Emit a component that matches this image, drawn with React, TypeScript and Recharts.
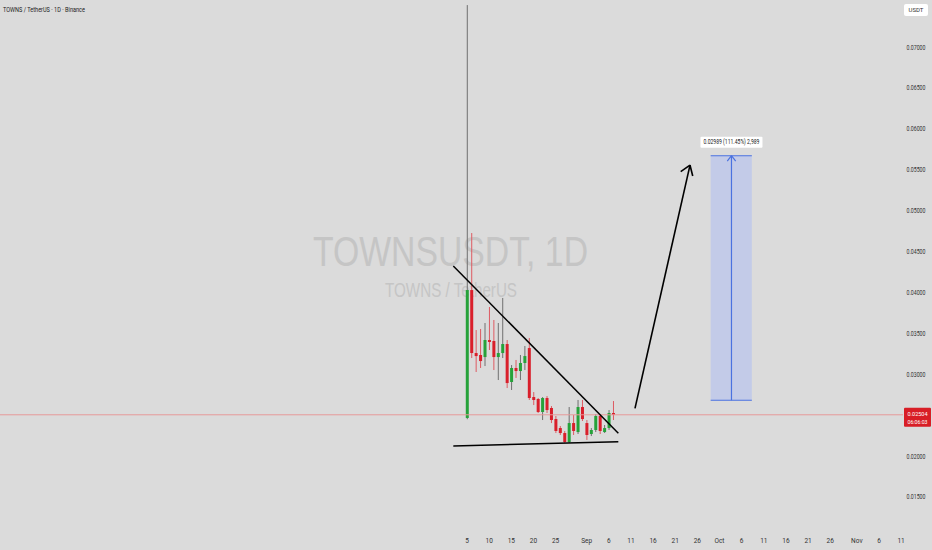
import React from 'react';
import {
  ComposedChart,
  Bar,
  XAxis,
  YAxis,
  ReferenceLine,
  ReferenceArea,
  ReferenceDot,
} from 'recharts';

// ---- data ----
const candleDays = [0, 1, 2, 3, 4, 5, 6, 7, 8, 9, 10, 11, 12, 13, 14, 15, 16, 17, 18, 19, 20, 21, 22, 23, 24, 25, 26, 27, 28, 29, 30, 31, 32, 33];
const opens = [0.02465, 0.04029, 0.03259, 0.03235, 0.0321, 0.03418, 0.03406, 0.0321, 0.03259, 0.03369, 0.02905, 0.03076, 0.03039, 0.03137, 0.0332, 0.02721, 0.02697, 0.02538, 0.02709, 0.02587, 0.02452, 0.02342, 0.02281, 0.02171, 0.02403, 0.02293, 0.02599, 0.02403, 0.02269, 0.02318, 0.02489, 0.02293, 0.02342, 0.02526];
const highs = [0.07513, 0.04726, 0.0354, 0.03553, 0.03626, 0.03822, 0.03663, 0.03626, 0.03932, 0.03418, 0.03112, 0.03174, 0.03235, 0.03345, 0.03443, 0.02782, 0.02709, 0.02721, 0.02733, 0.02611, 0.02489, 0.02367, 0.02306, 0.02599, 0.02501, 0.02685, 0.02685, 0.0244, 0.02342, 0.02513, 0.02513, 0.02379, 0.02562, 0.02672];
const lows = [0.0245, 0.03198, 0.03027, 0.03076, 0.031, 0.03296, 0.03051, 0.02929, 0.03198, 0.02831, 0.02807, 0.02954, 0.02929, 0.03051, 0.02685, 0.02623, 0.02526, 0.0244, 0.02526, 0.02403, 0.02281, 0.02257, 0.02159, 0.02159, 0.02257, 0.02269, 0.02428, 0.02196, 0.02244, 0.02293, 0.02269, 0.02281, 0.02318, 0.0244];
const closes = [0.04029, 0.03259, 0.03222, 0.03161, 0.03418, 0.03394, 0.0321, 0.03259, 0.03369, 0.02892, 0.03076, 0.03039, 0.03137, 0.03222, 0.02709, 0.02685, 0.02538, 0.02709, 0.02562, 0.0244, 0.02306, 0.02281, 0.02171, 0.02403, 0.02306, 0.02599, 0.02452, 0.02257, 0.02318, 0.02489, 0.02306, 0.02342, 0.02526, 0.02504];

const xTickDays = [0, 5, 10, 15, 20, 27, 32, 37, 42, 47, 52, 57, 62, 67, 72, 77, 82, 88, 93, 98];
const xTickLabels = ['5', '10', '15', '20', '25', 'Sep', '6', '11', '16', '21', '26', 'Oct', '6', '11', '16', '21', '26', 'Nov', '6', '11'];
const yTicks = [0.015, 0.02, 0.03, 0.035, 0.04, 0.045, 0.05, 0.055, 0.06, 0.065, 0.07];

const lastPrice = 0.02504;
const countdown = '06:06:03';

// drawings (day offset, price)
const resistanceLine = [{ x: -3.09, y: 0.04323 }, { x: 34.16, y: 0.02278 }];
const supportLine = [{ x: -3.09, y: 0.02122 }, { x: 34.16, y: 0.02175 }];
const arrowLine = [{ x: 37.92, y: 0.02583 }, { x: 50.34, y: 0.05557 }];
const arrowWingLeft = [{ x: 50.34, y: 0.05557 }, { x: 48.24, y: 0.05476 }];
const arrowWingRight = [{ x: 50.34, y: 0.05557 }, { x: 50.95, y: 0.05423 }];
const targetFrom = 0.02682;
const targetTo = 0.05671;
const targetDays = [55.0, 59.7, 64.3];
const targetLabel = '0.02989 (111.45%) 2,989';

const data = candleDays.map((t, i) => ({
  t,
  open: opens[i],
  high: highs[i],
  low: lows[i],
  close: closes[i],
}));

const GREEN = '#26a23a';
const RED = '#d91f2b';
const WICK_UP = '#707070';
const WICK_DOWN = '#de5a62';
const BLUE = '#4a72e0';

const Candle = (props: any) => {
  const { x, y, width, height, payload } = props;
  if (!payload) return null;
  const { open, close, high, low } = payload;
  const top = Math.min(y, y + height);
  const h = Math.abs(height);
  const up = close >= open;
  const range = high - low;
  const k = range > 0 ? h / range : 0;
  const yOf = (v: number) => top + (high - v) * k;
  const bTop = yOf(Math.max(open, close));
  const bBot = yOf(Math.min(open, close));
  const cx = x + width / 2;
  return (
    <g>
      <line x1={cx} x2={cx} y1={top} y2={top + h} stroke={up ? WICK_UP : WICK_DOWN} strokeWidth={1} />
      <rect x={x} y={bTop} width={width} height={Math.max(1, bBot - bTop)} fill={up ? GREEN : RED} />
    </g>
  );
};

const YTick = (props: any) => {
  const { y, payload } = props;
  return (
    <text x={916} y={y + 2.5} textAnchor="middle" fontSize={6.5} fill="#333" fontFamily="Roboto, sans-serif" textLength={19} lengthAdjust="spacingAndGlyphs">
      {Number(payload.value).toFixed(5)}
    </text>
  );
};

const XTick = (props: any) => {
  const { x, payload } = props;
  const idx = xTickDays.indexOf(payload.value);
  return (
    <text x={x} y={543} textAnchor="middle" fontSize={6.5} fill="#333" fontFamily="Roboto, sans-serif">
      {idx >= 0 ? xTickLabels[idx] : ''}
    </text>
  );
};

const PriceLabel = (props: any) => {
  const vb = props.viewBox || {};
  const x0 = (vb.x || 0) + (vb.width || 0) + 1;
  const y0 = vb.y || 0;
  return (
    <g>
      <rect x={x0} y={y0 - 7} width={27} height={19} fill="#d81e26" rx={1} />
      <text x={x0 + 13.5} y={y0 + 1.5} textAnchor="middle" fontSize={6} fill="#fff" fontFamily="Roboto, sans-serif" textLength={20} lengthAdjust="spacingAndGlyphs">
        {lastPrice.toFixed(5)}
      </text>
      <text x={x0 + 13.5} y={y0 + 9.5} textAnchor="middle" fontSize={6} fill="#fff" fontFamily="Roboto, sans-serif" textLength={20} lengthAdjust="spacingAndGlyphs">
        {countdown}
      </text>
    </g>
  );
};

const TargetLabel = (props: any) => {
  const { cx, cy } = props;
  return (
    <g>
      <rect x={cx - 31} y={cy - 19} width={62} height={11} fill="#ffffff" rx={1} />
      <text x={cx} y={cy - 11.3} textAnchor="middle" fontSize={6.5} fill="#222" fontFamily="Roboto, sans-serif" textLength={56} lengthAdjust="spacingAndGlyphs">
        {targetLabel}
      </text>
    </g>
  );
};

export default function App() {
  const w = 932;
  const h = 550;
  return (
    <div style={{ position: 'fixed', left: 0, top: 0, width: w, height: h, background: '#dbdbdb', overflow: 'hidden' }}>
      <svg width={w} height={h} style={{ position: 'absolute', left: 0, top: 0 }}>
        <text x={313} y={266} fontSize={43} fill="#c5c5c5" fontFamily="'Liberation Sans', Arial, sans-serif" textLength={275} lengthAdjust="spacingAndGlyphs">
          TOWNSUSDT, 1D
        </text>
        <text x={385} y={296.5} fontSize={21} fill="#c5c5c5" fontFamily="'Liberation Sans', Arial, sans-serif" textLength={132} lengthAdjust="spacingAndGlyphs">
          TOWNS / TetherUS
        </text>
        <text x={3} y={11.5} fontSize={7.5} fill="#222" fontFamily="Roboto, sans-serif" textLength={82} lengthAdjust="spacingAndGlyphs">
          TOWNS / TetherUS · 1D · Binance
        </text>
        <rect x={904} y={4} width={24} height={12} fill="#ffffff" rx={2} />
        <text x={916} y={12.3} textAnchor="middle" fontSize={6} fill="#333" fontFamily="Roboto, sans-serif">
          USDT
        </text>
      </svg>
      <div style={{ position: 'absolute', left: 0, top: 0 }}>
        <ComposedChart width={w} height={h} data={data} margin={{ top: 0, right: 0, bottom: 0, left: 0 }}>
          <XAxis
            dataKey="t"
            type="number"
            domain={[-105.42, 98.42]}
            allowDataOverflow
            ticks={xTickDays}
            interval={0}
            height={18}
            axisLine={false}
            tickLine={false}
            tick={<XTick />}
          />
          <YAxis
            orientation="right"
            type="number"
            domain={[0.01071, 0.07575]}
            allowDataOverflow
            ticks={yTicks}
            width={29}
            axisLine={false}
            tickLine={false}
            tick={<YTick />}
          />
          <ReferenceArea x1={targetDays[0]} x2={targetDays[2]} y1={targetFrom} y2={targetTo} fill="#c3cbe8" fillOpacity={1} stroke="none" />
          <ReferenceLine segment={[{ x: targetDays[0], y: targetTo }, { x: targetDays[2], y: targetTo }]} stroke={BLUE} strokeWidth={1.2} />
          <ReferenceLine segment={[{ x: targetDays[0], y: targetFrom }, { x: targetDays[2], y: targetFrom }]} stroke={BLUE} strokeWidth={1.2} />
          <ReferenceLine segment={[{ x: targetDays[1], y: targetFrom }, { x: targetDays[1], y: targetTo }]} stroke={BLUE} strokeWidth={1.2} />
          <ReferenceLine segment={[{ x: targetDays[1], y: targetTo }, { x: targetDays[1] - 0.95, y: targetTo - 0.00065 }]} stroke={BLUE} strokeWidth={1.2} />
          <ReferenceLine segment={[{ x: targetDays[1], y: targetTo }, { x: targetDays[1] + 0.95, y: targetTo - 0.00065 }]} stroke={BLUE} strokeWidth={1.2} />
          <ReferenceDot x={targetDays[1]} y={targetTo} r={0} shape={<TargetLabel />} />
          <ReferenceLine y={lastPrice} stroke="#e69a9a" strokeWidth={1} label={<PriceLabel />} />
          <Bar dataKey={(d: any) => [d.low, d.high]} barSize={3} shape={<Candle />} isAnimationActive={false} />
          <ReferenceLine segment={resistanceLine} stroke="#000" strokeWidth={1.5} />
          <ReferenceLine segment={supportLine} stroke="#000" strokeWidth={1.5} />
          <ReferenceLine segment={arrowLine} stroke="#000" strokeWidth={1.6} />
          <ReferenceLine segment={arrowWingLeft} stroke="#000" strokeWidth={1.6} />
          <ReferenceLine segment={arrowWingRight} stroke="#000" strokeWidth={1.6} />
        </ComposedChart>
      </div>
    </div>
  );
}
